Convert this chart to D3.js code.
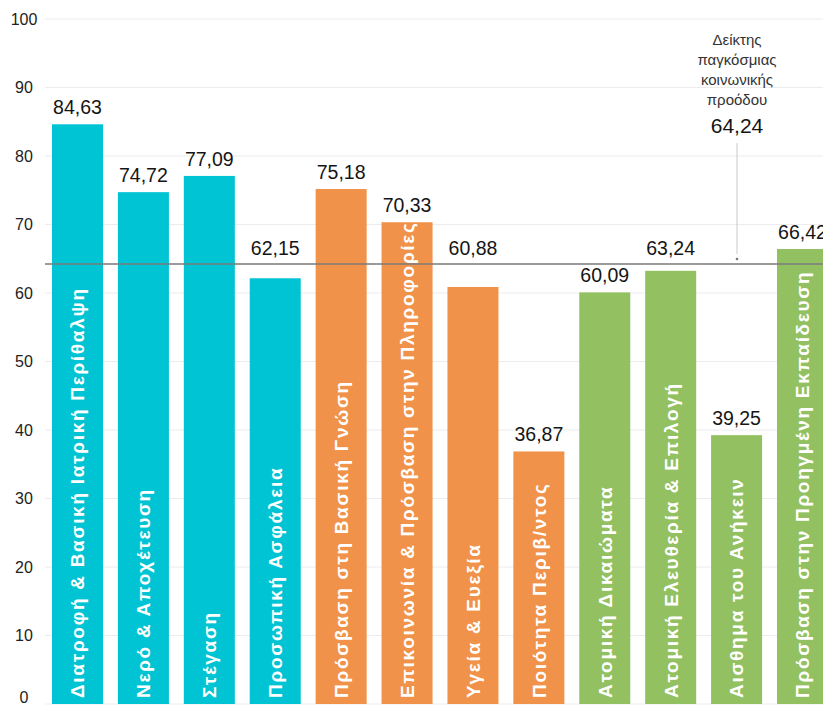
<!DOCTYPE html>
<html lang="el">
<head>
    <meta charset="UTF-8">
    <title>Δείκτης κοινωνικής προόδου</title>
    <script src="https://d3js.org/d3.v7.min.js"></script>
    <style>
        body{ margin:0; background:#fff; }
        svg{ display:block; font-family:"Liberation Sans", Arial, Helvetica, sans-serif; }
        .tick-label{ font-size:16px; fill:#222; }
        .value{ font-size:19.5px; fill:#151515; }
        .cat{ font-size:19px; font-weight:bold; fill:#fff; letter-spacing:1.7px; }
        .note{ font-size:15px; fill:#333; }
    </style>
</head>
<body>
<svg width="823" height="707"></svg>
<script>
    // data
    const categories = [
        "Διατροφή & Βασική Ιατρική Περίθαλψη",
        "Νερό & Αποχέτευση",
        "Στέγαση",
        "Προσωπική Ασφάλεια",
        "Πρόσβαση στη Βασική Γνώση",
        "Επικοινωνία & Πρόσβαση στην Πληροφορίες",
        "Υγεία & Ευεξία",
        "Ποιότητα Περιβ/ντος",
        "Ατομική Δικαιώματα",
        "Ατομική Ελευθερία & Επιλογή",
        "Αισθημα του Ανήκειν",
        "Πρόσβαση στην Προηγμένη Εκπαίδευση"
    ];
    const values = [84.63, 74.72, 77.09, 62.15, 75.18, 70.33, 60.88, 36.87, 60.09, 63.24, 39.25, 66.42];
    const groups = ["basic","basic","basic","basic","found","found","found","found","opp","opp","opp","opp"];
    const groupColors = {basic:"#00c4d4", found:"#f1924a", opp:"#93c162"};
    const yTicks = [0,10,20,30,40,50,60,70,80,90,100];
    const indexValue = 64.24;
    const indexLabel = ["Δείκτης","παγκόσμιας","κοινωνικής","προόδου"];

    const fmt = v => d3.format(".2f")(v).replace(".", ",");

    const svg = d3.select("svg");
    const width = 823;

    const y = d3.scaleLinear().domain([0,100]).range([704, 19]);
    const x = d3.scaleBand()
        .domain(categories)
        .range([52, 828])
        .paddingInner(0.226)
        .paddingOuter(0);

    // grid
    svg.append("g").selectAll("line")
        .data(yTicks)
        .join("line")
        .attr("x1", 45).attr("x2", width)
        .attr("y1", d => y(d)).attr("y2", d => y(d))
        .attr("stroke", "#ececec").attr("stroke-width", 1);

    svg.append("g").selectAll("text")
        .data(yTicks)
        .join("text")
        .attr("class", "tick-label")
        .attr("x", 24)
        .attr("y", d => Math.min(y(d), 697))
        .attr("dy", "0.36em")
        .attr("text-anchor", "middle")
        .text(d => d);

    // bars
    svg.append("g").selectAll("rect")
        .data(categories)
        .join("rect")
        .attr("x", d => x(d))
        .attr("y", (d,i) => y(values[i]))
        .attr("width", x.bandwidth())
        .attr("height", (d,i) => y(0) - y(values[i]))
        .attr("fill", (d,i) => groupColors[groups[i]]);

    // reference line
    const yRef = y(indexValue);
    svg.append("line")
        .attr("x1", 45).attr("x2", width)
        .attr("y1", yRef).attr("y2", yRef)
        .attr("stroke", "#7a7a7a").attr("stroke-width", 1.5);

    // value labels, lifted above the index line where they would touch it
    svg.append("g").selectAll("text")
        .data(categories)
        .join("text")
        .attr("class", "value")
        .attr("x", d => x(d) + x.bandwidth()/2)
        .attr("y", (d,i) => {
            const top = y(values[i]);
            let base = top - 10;
            if (top > yRef && base - 14 < yRef + 4) base = yRef - 9;
            return base;
        })
        .attr("text-anchor", "middle")
        .text((d,i) => fmt(values[i]));

    // category names inside bars
    svg.append("g").selectAll("text")
        .data(categories)
        .join("text")
        .attr("class", "cat")
        .attr("transform", d => `translate(${x(d) + x.bandwidth()/2},698) rotate(-90)`)
        .attr("dy", "0.36em")
        .text(d => d);

    // index annotation
    const ax = 737;
    const note = svg.append("g");
    note.selectAll("text.note")
        .data(indexLabel)
        .join("text")
        .attr("class", "note")
        .attr("x", ax)
        .attr("y", (d,i) => 45 + i*20)
        .attr("text-anchor", "middle")
        .text(d => d);
    note.append("text")
        .attr("class", "value")
        .style("font-size", "21px")
        .attr("x", ax).attr("y", 133)
        .attr("text-anchor", "middle")
        .text(fmt(indexValue));
    note.append("line")
        .attr("x1", ax).attr("x2", ax)
        .attr("y1", 143).attr("y2", 254)
        .attr("stroke", "#bbb").attr("stroke-width", 0.8);
    note.append("circle")
        .attr("cx", ax).attr("cy", 259).attr("r", 1.3)
        .attr("fill", "#777");
</script>
</body>
</html>
